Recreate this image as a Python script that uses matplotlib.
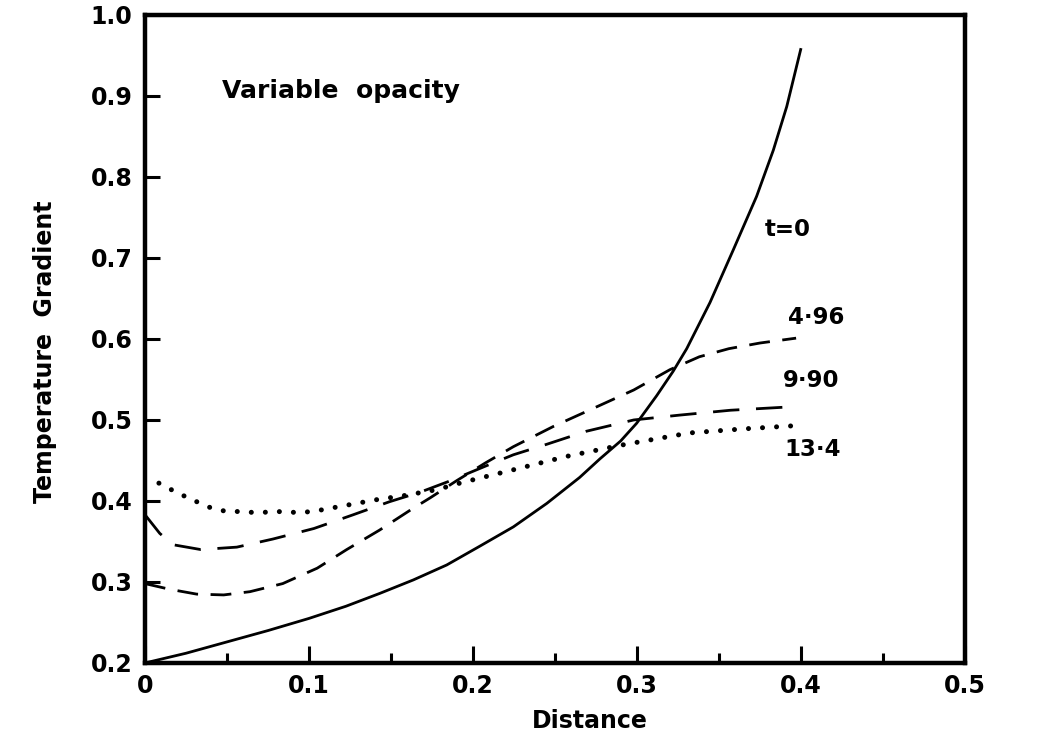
import matplotlib
matplotlib.use("Agg")
import matplotlib.pyplot as plt

plt.rcParams['font.family'] = ['DejaVu Sans']
plt.rcParams['font.weight'] = 'bold'

# Temperature-gradient profiles against distance for several times t
x_t0 = [0.000, 0.025, 0.050, 0.075, 0.100, 0.1225, 0.1433, 0.1636, 0.184,
        0.204, 0.2246, 0.245, 0.265, 0.2774, 0.290, 0.2998, 0.312, 0.322,
        0.3303, 0.3445, 0.3587, 0.3729, 0.3831, 0.3913, 0.4000]
y_t0 = [0.200, 0.212, 0.226, 0.240, 0.255, 0.270, 0.286, 0.3025, 0.321,
        0.344, 0.368, 0.397, 0.429, 0.452, 0.474, 0.496, 0.530, 0.560,
        0.588, 0.645, 0.710, 0.776, 0.833, 0.887, 0.959]

x_t496 = [0.000, 0.015, 0.0315, 0.048, 0.064, 0.084, 0.105, 0.123, 0.143,
          0.162, 0.174, 0.190, 0.2076, 0.2246, 0.249, 0.273, 0.298, 0.320,
          0.338, 0.356, 0.375, 0.397]
y_t496 = [0.298, 0.291, 0.285, 0.284, 0.288, 0.298, 0.317, 0.340, 0.364,
          0.389, 0.404, 0.425, 0.447, 0.467, 0.492, 0.514, 0.537, 0.562,
          0.578, 0.588, 0.595, 0.601]

x_t990 = [0.000, 0.009, 0.017, 0.034, 0.056, 0.078, 0.103, 0.127, 0.149,
          0.168, 0.185, 0.2076, 0.2246, 0.245, 0.269, 0.298, 0.326, 0.357,
          0.392]
y_t990 = [0.383, 0.360, 0.346, 0.340, 0.343, 0.353, 0.366, 0.383, 0.399,
          0.411, 0.424, 0.443, 0.457, 0.470, 0.486, 0.500, 0.506, 0.512,
          0.516]

x_t134 = [0.0085, 0.016, 0.023, 0.0305, 0.0396, 0.047, 0.056, 0.064, 0.0725,
          0.0806, 0.089, 0.097, 0.105, 0.113, 0.121, 0.129, 0.137, 0.145,
          0.1535, 0.178, 0.193, 0.2256, 0.257, 0.2906, 0.332, 0.365, 0.397]
y_t134 = [0.422, 0.414, 0.407, 0.400, 0.392, 0.388, 0.387, 0.386, 0.386,
          0.387, 0.386, 0.386, 0.388, 0.391, 0.394, 0.397, 0.400, 0.403,
          0.405, 0.414, 0.4226, 0.439, 0.455, 0.469, 0.484, 0.489, 0.493]

curve_labels = ["t=0", "4·96", "9·90", "13·4"]
label_x = [0.378, 0.392, 0.389, 0.390]
label_y = [0.735, 0.626, 0.549, 0.463]

x_ticks = [0, 0.1, 0.2, 0.3, 0.4, 0.5]
x_tick_labels = ["0", "0.1", "0.2", "0.3", "0.4", "0.5"]
y_ticks = [0.2, 0.3, 0.4, 0.5, 0.6, 0.7, 0.8, 0.9, 1.0]
y_tick_labels = ["0.2", "0.3", "0.4", "0.5", "0.6", "0.7", "0.8", "0.9", "1.0"]

fig = plt.figure(figsize=(10.46, 7.40), dpi=100)
ax = fig.add_axes([0.1386, 0.1041, 0.784, 0.8757])

ax.plot(x_t0, y_t0, color='black', lw=2.0, solid_capstyle='butt',
        solid_joinstyle='round')
ax.plot(x_t496, y_t496, color='black', lw=2.0, dashes=(7.5, 4.5),
        dash_joinstyle='round')
ax.plot(x_t990, y_t990, color='black', lw=2.0, dashes=(9.5, 6),
        dash_joinstyle='round')
ax.plot(x_t134, y_t134, color='black', lw=3.6, dashes=(0.01, 2.8),
        dash_capstyle='round')

for txt, lx, ly in zip(curve_labels, label_x, label_y):
    ax.text(lx, ly, txt, fontsize=16.5, fontweight='bold', ha='left', va='center')

ax.text(0.047, 0.906, "Variable  opacity", fontsize=18, fontweight='bold',
        ha='left', va='center')

ax.set_xlim(0, 0.5)
ax.set_ylim(0.2, 1.0)
ax.set_xticks(x_ticks)
ax.set_xticklabels(x_tick_labels)
ax.set_xticks([0.05, 0.15, 0.25, 0.35, 0.45], minor=True)
ax.set_yticks(y_ticks)
ax.set_yticklabels(y_tick_labels)

ax.tick_params(axis='both', which='major', direction='in', width=2.2,
               labelsize=17, colors='black')
ax.tick_params(axis='x', which='major', length=12, pad=8)
ax.tick_params(axis='x', which='minor', direction='in', length=7, width=2.2)
ax.tick_params(axis='y', which='major', length=11, pad=9)

for s in ax.spines.values():
    s.set_linewidth(3.2)

ax.set_xlabel("Distance", fontsize=17, fontweight='bold')
ax.set_ylabel("Temperature  Gradient", fontsize=17, fontweight='bold')
ax.xaxis.set_label_coords(0.543, -0.071)
ax.yaxis.set_label_coords(-0.107, 0.48)

fig.savefig("out.png", dpi=100, facecolor='white')
